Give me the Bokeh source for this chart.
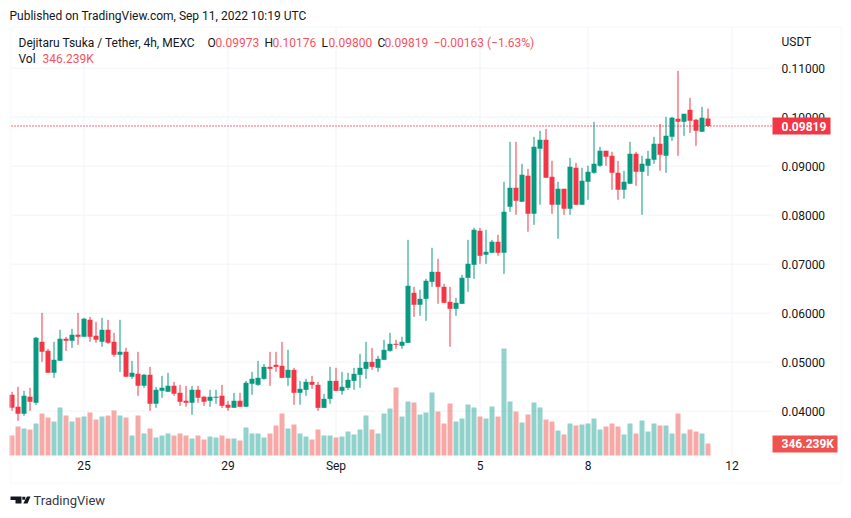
from bokeh.embed import file_html
from bokeh.models import (BoxAnnotation, ColumnDataSource, FixedTicker, Label, LinearAxis,
                          NumeralTickFormatter, PolyAnnotation, Range1d)
from bokeh.plotting import figure
from bokeh.resources import INLINE

opens = [.04332,.04088,.03945,.04292,.04169,.05414,.05230,.04781,.05026,.05475,.05435,.05557,.05516,.05863,.05537,.05414,
 .05659,.05414,.05149,.05210,.04700,.04761,.04516,.04741,.04149,.04414,.04394,.04516,.04373,.04210,.04169,.04435,
 .04292,.04210,.04272,.04312,.04129,.04067,.04210,.04088,.04557,.04537,.04659,.04904,.04945,.04925,.04680,.04843,
 .04374,.04435,.04598,.04537,.04067,.04251,.04618,.04414,.04476,.04618,.04741,.04863,.05006,.04884,
 .05047,.05231,.05374,.05333,.05394,.06415,.06170,.06292,.06639,.06843,.06537,.06231,.06088,.06190,.06721,.06986,
 .07680,.07190,.07231,.07456,.07231,.08170,.08558,.08272,.08802,.08027,.09353,.09537,.08782,.08211,.08537,.08129,
 .08966,.08211,.08680,.08864,.09007,.09312,.09210,.08863,.08516,.08639,.09251,.08884,.09006,.09129,.09455,.09210,
 .09598,.09965,.09904,.10149,.09945,.09700,.09973]
highs = [.04394,.04496,.04414,.04475,.05516,.06006,.05271,.05414,.05659,.05516,.05679,.06006,.05904,.05924,.05822,.05904,
 .05863,.05598,.05863,.05292,.05026,.05210,.04761,.04904,.04496,.04720,.04781,.04598,.04537,.04516,.04516,.04516,
 .04312,.04435,.04435,.04537,.04210,.04374,.04374,.04618,.04802,.05027,.04965,.05210,.05210,.05414,.05251,.04884,
 .04618,.04659,.04721,.04598,.04353,.04904,.04884,.04802,.04782,.04884,.05170,.05414,.05292,.05129,
 .05455,.05598,.05455,.05517,.07496,.06537,.06476,.06700,.07333,.07109,.06598,.06537,.06313,.06782,.07496,.07741,
 .07741,.07700,.07496,.07598,.08680,.09496,.09496,.09047,.08945,.09598,.09721,.09762,.09109,.08680,.08537,.09170,
 .09068,.08966,.09007,.09905,.09394,.09312,.09292,.09108,.08904,.09496,.09292,.09210,.09312,.09598,.09863,.10006,
 .10006,.10945,.10067,.10394,.09965,.10210,.10176]
lows = [.04006,.03802,.03904,.04006,.04128,.05006,.04781,.04679,.05026,.05230,.05292,.05353,.05516,.05414,.05394,.05312,
 .05373,.05108,.04802,.04700,.04659,.04312,.04475,.04006,.04067,.04271,.04394,.04312,.04108,.04088,.03924,.04169,
 .04108,.04088,.04149,.04067,.04006,.04067,.04088,.04088,.04333,.04516,.04639,.04516,.04802,.04680,.04516,.04129,
 .04129,.04312,.04455,.04006,.04067,.04149,.04414,.04333,.04435,.04435,.04476,.04659,.04843,.04802,
 .05047,.05211,.05272,.05272,.05394,.05925,.05945,.05843,.06537,.06190,.06211,.05313,.05945,.06190,.06435,.06700,
 .07007,.07007,.07231,.07170,.06802,.08068,.08006,.08272,.07660,.07802,.08211,.08762,.08027,.07517,.08006,.08006,
 .08211,.08211,.08313,.08843,.08986,.09006,.08516,.08312,.08333,.08639,.08598,.08006,.08802,.09047,.08904,.08863,
 .09516,.09210,.09618,.09680,.09414,.09700,.09800]
closes = [.04067,.03945,.04312,.04190,.05496,.05210,.04781,.05047,.05475,.05435,.05557,.05516,.05884,.05516,.05455,.05659,
 .05394,.05149,.05210,.04700,.04781,.04516,.04741,.04149,.04435,.04475,.04516,.04353,.04190,.04169,.04435,.04271,
 .04190,.04292,.04292,.04108,.04067,.04210,.04088,.04578,.04659,.04680,.04904,.04863,.04904,.04680,.04843,.04374,
 .04455,.04598,.04537,.04067,.04251,.04618,.04414,.04496,.04639,.04761,.04884,.05006,.04904,.05067,
 .05251,.05374,.05353,.05415,.06558,.06170,.06292,.06660,.06843,.06537,.06211,.06088,.06211,.06721,.07007,.07700,
 .07170,.07251,.07456,.07231,.08068,.08558,.08292,.08823,.08027,.09394,.09537,.08762,.08211,.08537,.08129,.08986,
 .08211,.08700,.08884,.09047,.09313,.09190,.08863,.08516,.08680,.09251,.08884,.09047,.09149,.09455,.09231,.09618,
 .09986,.09904,.10067,.09924,.09720,.09986,.09819]
volumes = [577,837,779,750,923,1212,1096,981,1385,1154,981,1096,1125,1241,1039,1125,1154,1298,1154,1096,577,1154,635,779,
 519,577,635,577,635,577,490,577,462,548,519,577,490,490,433,808,635,635,519,635,866,1212,779,894,635,548,462,750,577,
 577,519,548,692,606,750,1154,750,635,1212,1356,1962,1125,1558,1529,1183,1241,1818,1269,923,1500,981,1067,1471,1385,
 1125,1067,1414,1125,3087,1558,1269,952,1183,1529,1385,1039,981,721,606,923,866,894,923,1067,750,837,923,837,606,923,
 635,1010,692,923,866,866,635,1212,635,750,692,635,346.239]
bar_index = list(range(len(opens)))
time_ticks = [12, 36, 54, 78, 96, 120]
time_labels = ["25", "29", "Sep", "5", "8", "12"]
price_ticks = [0.04, 0.05, 0.06, 0.07, 0.08, 0.09, 0.10, 0.11]
last_close = 0.09819

UP, DOWN = "#089981", "#f23645"
TEXT, FONT = "#131722", "Roboto"
GRID = "#f0f3fa"
W, H = 845, 512
X_LEFT, X_AXIS = -0.0833, 126.583      # ends of the price pane, in bars
Y_AXIS, Y_TOP = 0.030537, 0.11827      # ends of the price pane, in price

p = figure(width=W, height=H, output_backend="svg", toolbar_location=None,
           x_range=Range1d(-1.9167, 138.9167), y_range=Range1d(0.019312, 0.123802),
           min_border_left=0, min_border_right=0, min_border_top=0, min_border_bottom=0,
           outline_line_color=None, background_fill_color="white", border_fill_color="white",
           x_axis_type=None, y_axis_type=None)
p.extra_y_ranges = {"vol": Range1d(-1644, 13127)}
p.xgrid.visible = False
p.ygrid.visible = False

xaxis = LinearAxis(ticker=FixedTicker(ticks=time_ticks), fixed_location=Y_AXIS,
                   major_label_overrides=dict(zip(time_ticks, time_labels)))
yaxis = LinearAxis(ticker=FixedTicker(ticks=price_ticks), fixed_location=X_AXIS,
                   formatter=NumeralTickFormatter(format="0.00000"))
for ax, standoff in ((xaxis, -4), (yaxis, 4)):
    ax.axis_line_color = None
    ax.major_tick_line_color = None
    ax.minor_tick_line_color = None
    ax.major_label_text_color = TEXT
    ax.major_label_text_font = FONT
    ax.major_label_text_font_size = "12px"
    ax.major_label_standoff = standoff
p.add_layout(xaxis, "below")
p.add_layout(yaxis, "right")

p.segment(x0=time_ticks, x1=time_ticks, y0=Y_AXIS, y1=Y_TOP, line_color=GRID, line_width=1)
p.segment(x0=X_LEFT, x1=X_AXIS, y0=price_ticks, y1=price_ticks, line_color=GRID, line_width=1)

colors = [UP if c >= o else DOWN for o, c in zip(opens, closes)]
vol_colors = ["#26a69a" if c >= o else "#ef5350" for o, c in zip(opens, closes)]
src = ColumnDataSource(dict(x=bar_index, o=opens, h=highs, l=lows, c=closes, v=volumes,
                            col=colors, vcol=vol_colors))
p.vbar(x="x", top="v", bottom=0, width=0.8333, source=src, y_range_name="vol",
       fill_color="vcol", fill_alpha=0.5, line_color=None)
p.segment(x0=X_LEFT, x1=X_AXIS, y0=last_close, y1=last_close, line_color=DOWN, line_width=1.3, line_dash="1 2")
p.segment(x0="x", x1="x", y0="l", y1="h", source=src, line_color="col", line_width=1)
p.vbar(x="x", top="o", bottom="c", width=0.8333, source=src, fill_color="col", line_color=None)


def fy(y):
    return H - y


def text(x, y, s, color=TEXT, size="12px", **kw):
    p.add_layout(Label(x=x, y=fy(y), x_units="screen", y_units="screen", text=s,
                       text_color=color, text_font=FONT, text_font_size=size,
                       text_baseline="middle", level="annotation", **kw))


text(9, 15, "Published on TradingView.com, Sep 11, 2022 10:19 UTC")
text(18, 42, "Dejitaru Tsuka / Tether, 4h, MEXC")
RED = "#f7525f"
for x, s, c in [(207, "O", TEXT), (215, "0.09973", RED), (264, "H", TEXT), (272, "0.10176", RED),
                (321, "L", TEXT), (328, "0.09800", RED), (377, "C", TEXT), (384, "0.09819", RED),
                (433, "\u22120.00163 (\u22121.63%)", RED)]:
    text(x, 42, s, c)
text(18, 58, "Vol")
text(42, 58, "346.239K", RED)
text(781, 41, "USDT")
text(33, 500, "TradingView", "#363a45", size="13px")

for l, r, b, t, col in [(772, 830, 134, 117, DOWN), (772, 837, 452, 435, "#ef5350")]:
    p.add_layout(BoxAnnotation(left=l, right=r, bottom=fy(b), top=fy(t),
                               left_units="screen", right_units="screen", bottom_units="screen", top_units="screen",
                               fill_color=col, fill_alpha=1, line_color=None, level="annotation"))
text(781, 125.5, "0.09819", "white", text_font_style="bold")
text(781, 443.5, "346.239K", "white", text_font_style="bold")

p.add_layout(PolyAnnotation(xs=[10, 841, 841, 10], ys=[fy(26.5), fy(26.5), fy(482.7), fy(482.7)],
                            xs_units="screen", ys_units="screen", fill_color=None, fill_alpha=0,
                            line_color=GRID, line_width=2, level="annotation"))
for xs, ys in [([10, 21, 21, 15, 15, 10], [496, 496, 503, 503, 499.5, 499.5]),
               ([26.5, 30, 27, 22.8], [496, 496, 503, 503]),
               ([21.8, 24.8, 24.8, 21.8], [496.2, 496.2, 499.3, 499.3])]:
    p.add_layout(PolyAnnotation(xs=xs, ys=[fy(b) for b in ys],
                                xs_units="screen", ys_units="screen", fill_color=TEXT, fill_alpha=1,
                                line_color=None, level="annotation"))

open("out.html", "w").write(file_html(p, INLINE))
